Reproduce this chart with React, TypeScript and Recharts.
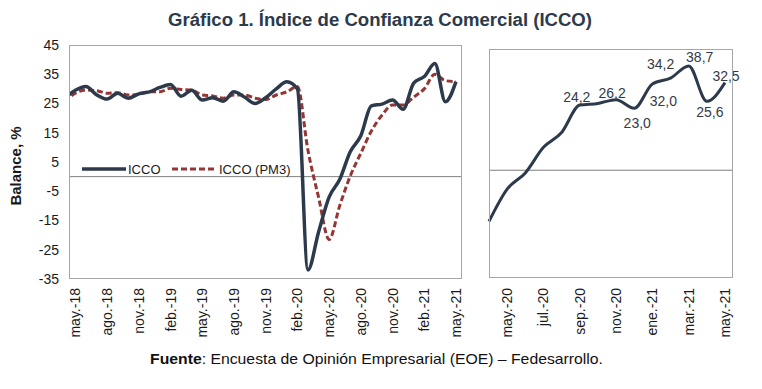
import React from 'react';
import { LineChart, Line, XAxis, YAxis, ReferenceLine, LabelList, Legend } from 'recharts';

const MONTHS = [
  'abr.-18', 'may.-18', 'jun.-18', 'jul.-18', 'ago.-18', 'sep.-18', 'oct.-18', 'nov.-18', 'dic.-18',
  'ene.-19', 'feb.-19', 'mar.-19', 'abr.-19', 'may.-19', 'jun.-19', 'jul.-19', 'ago.-19', 'sep.-19', 'oct.-19', 'nov.-19', 'dic.-19',
  'ene.-20', 'feb.-20', 'mar.-20', 'abr.-20', 'may.-20', 'jun.-20', 'jul.-20', 'ago.-20', 'sep.-20', 'oct.-20', 'nov.-20', 'dic.-20',
  'ene.-21', 'feb.-21', 'mar.-21', 'abr.-21', 'may.-21',
];

const ICCO = [
  26.8, 29.5, 30.8, 28.0, 26.5, 28.5, 26.8, 28.3, 29.0,
  30.5, 31.5, 27.5, 29.5, 26.2, 27.0, 25.8, 29.0, 27.2, 25.0, 27.0, 30.0,
  32.4, 30.0, -31.9, -19.0, -7.0, -1.0, 8.5, 14.0, 24.2, 24.8, 26.2, 23.0,
  32.0, 34.2, 38.7, 25.6, 32.5,
];

const ICCO_PM3 = [
  25.5, 28.5, 29.6, 29.4, 28.5, 28.7, 27.9, 28.1, 29.0,
  29.0, 30.2, 29.8, 29.6, 27.9, 27.6, 26.8, 27.9, 27.9, 26.8, 26.4, 27.9,
  29.0, 30.8, 9.0, -7.0, -21.5, -10.0, 0.2, 8.0, 15.6, 21.0, 24.5, 24.5,
  27.2, 30.0, 35.0, 32.8, 32.5,
];

const LEFT_TICKS = [0, 3, 6, 9, 12, 15, 18, 21, 24, 27, 30, 33, 36];
const RIGHT_TICKS = [0, 2, 4, 6, 8, 10, 12];
const Y_TICKS = [-35, -25, -15, -5, 5, 15, 25, 35, 45];
const LABELLED_MONTHS = ['sep.-20', 'nov.-20', 'dic.-20', 'ene.-21', 'feb.-21', 'mar.-21', 'abr.-21', 'may.-21'];

const FIRST_LEFT = 1; // may.-18
const FIRST_RIGHT = 25; // may.-20

const leftData = MONTHS.map((m, i) => ({ t: i - FIRST_LEFT, month: m, icco: ICCO[i], pm3: ICCO_PM3[i] }));
const rightData = MONTHS.slice(FIRST_RIGHT - 1).map((m, k) => ({
  t: k - 1,
  month: m,
  icco: ICCO[FIRST_RIGHT - 1 + k],
}));

// label placement relative to the point (dx, dy to baseline)
const LABEL_OFFSETS: Record<string, [number, number]> = {
  'sep.-20': [-3, -3],
  'nov.-20': [-4, -2],
  'dic.-20': [3, 20],
  'ene.-21': [11, 22],
  'feb.-21': [-10, -9],
  'mar.-21': [11, -4],
  'abr.-21': [3, 16],
  'may.-21': [1, -2],
};

const NAVY = '#2c3a4b';
const RED = '#943634';
const SANS = "'Liberation Sans', Arial, sans-serif";
const NARROW = "'Liberation Sans Narrow', 'Liberation Sans', Arial, sans-serif";

const makeTick = (offset: number) => (props: any) => {
  const { x, y, payload } = props;
  const label = MONTHS[payload.value + offset];
  return (
    <text
      x={0}
      y={0}
      transform={`translate(${x},${y}) rotate(-90)`}
      textAnchor="end"
      dominantBaseline="central"
      fontSize={14}
      fill="#1a1a1a"
      fontFamily={SANS}
    >
      {label}
    </text>
  );
};

const renderLabel = (props: any) => {
  const { x, y, value, index } = props;
  const month = rightData[index]?.month;
  if (!LABELLED_MONTHS.includes(month)) return null;
  const [dx, dy] = LABEL_OFFSETS[month] || [0, -5];
  return (
    <text x={x + dx} y={y + dy} textAnchor="middle" fontSize={14} fill="#333b46" fontFamily={SANS}>
      {Number(value).toFixed(1).replace('.', ',')}
    </text>
  );
};

const LegendContent = () => (
  <svg width={230} height={20}>
    <line x1={2} y1={10} x2={46} y2={10} stroke={NAVY} strokeWidth={3.5} />
    <text x={48} y={14.5} fontSize={13} fill="#1a1a1a" fontFamily={SANS}>ICCO</text>
    <line x1={92} y1={10} x2={137} y2={10} stroke={RED} strokeWidth={3} strokeDasharray="6 3" />
    <text x={139} y={14.5} fontSize={13} fill="#1a1a1a" fontFamily={SANS}>ICCO (PM3)</text>
  </svg>
);

export default function App() {
  return (
    <div style={{ position: 'absolute', left: 0, top: 0, width: 762, height: 389, background: '#fff', overflow: 'hidden' }}>
      <div style={{ position: 'absolute', left: 0, top: 0 }}>
        <LineChart width={470} height={340} data={leftData} margin={{ top: 45, right: 8, bottom: 6, left: 0 }}>
          <XAxis
            type="number"
            dataKey="t"
            domain={[-0.6, 36.57]}
            ticks={LEFT_TICKS}
            allowDataOverflow
            interval={0}
            axisLine={false}
            tickLine={false}
            tickSize={0}
            tickMargin={9}
            height={55}
            tick={makeTick(FIRST_LEFT)}
          />
          <YAxis
            type="number"
            domain={[-35, 45]}
            ticks={Y_TICKS}
            interval={0}
            width={69}
            axisLine={false}
            tickLine={false}
            tickSize={0}
            tickMargin={10}
            tick={{ fontSize: 14, fill: '#1a1a1a', fontFamily: SANS }}
          />
          <ReferenceLine y={0} stroke="#7f7f7f" strokeWidth={1} />
          <Legend
            verticalAlign="middle"
            align="center"
            layout="horizontal"
            content={<LegendContent />}
            wrapperStyle={{ left: 80, top: 159, width: 230, height: 20 }}
          />
          <Line
            type="monotone"
            dataKey="pm3"
            name="ICCO (PM3)"
            stroke={RED}
            strokeWidth={3}
            strokeDasharray="6 3"
            dot={false}
            isAnimationActive={false}
          />
          <Line
            type="monotone"
            dataKey="icco"
            name="ICCO"
            stroke={NAVY}
            strokeWidth={3.5}
            dot={false}
            isAnimationActive={false}
          />
        </LineChart>
      </div>
      <div style={{ position: 'absolute', left: 480, top: 0 }}>
        <LineChart width={270} height={340} data={rightData} margin={{ top: 49, right: 17, bottom: 7, left: 9 }}>
          <XAxis
            type="number"
            dataKey="t"
            domain={[-1, 12.44]}
            ticks={RIGHT_TICKS}
            interval={0}
            axisLine={false}
            tickLine={false}
            tickSize={0}
            tickMargin={10}
            height={55}
            tick={makeTick(FIRST_RIGHT)}
          />
          <YAxis type="number" domain={[-40, 45]} hide />
          <ReferenceLine y={0} stroke="#7f7f7f" strokeWidth={1} />
          <Line
            type="monotone"
            dataKey="icco"
            stroke={NAVY}
            strokeWidth={3}
            dot={false}
            isAnimationActive={false}
          >
            <LabelList dataKey="icco" content={renderLabel} />
          </Line>
        </LineChart>
      </div>
      <svg width={762} height={389} style={{ position: 'absolute', left: 0, top: 0, pointerEvents: 'none' }}>
        <rect x={69.5} y={45.5} width={392} height={233} fill="none" stroke="#a6a6a6" strokeWidth={1} />
        <rect x={489.5} y={49.5} width={243} height={228} fill="none" stroke="#a6a6a6" strokeWidth={1} />
        <text
          x={380}
          y={26}
          textAnchor="middle"
          fontSize={18}
          fontWeight="bold"
          fill="#2c3a4b"
          fontFamily={NARROW}
          textLength={424}
          lengthAdjust="spacingAndGlyphs"
        >
          Gráfico 1. Índice de Confianza Comercial (ICCO)
        </text>
        <text
          x={0}
          y={0}
          transform="translate(21,166) rotate(-90)"
          textAnchor="middle"
          fontSize={15}
          fontWeight="bold"
          fill="#1a1a1a"
          fontFamily={SANS}
        >
          Balance, %
        </text>
        <text
          x={150}
          y={364}
          fontSize={15}
          fill="#111"
          fontFamily={NARROW}
          textLength={453}
          lengthAdjust="spacingAndGlyphs"
        >
          <tspan fontWeight="bold">Fuente</tspan>: Encuesta de Opinión Empresarial (EOE) – Fedesarrollo.
        </text>
      </svg>
    </div>
  );
}
